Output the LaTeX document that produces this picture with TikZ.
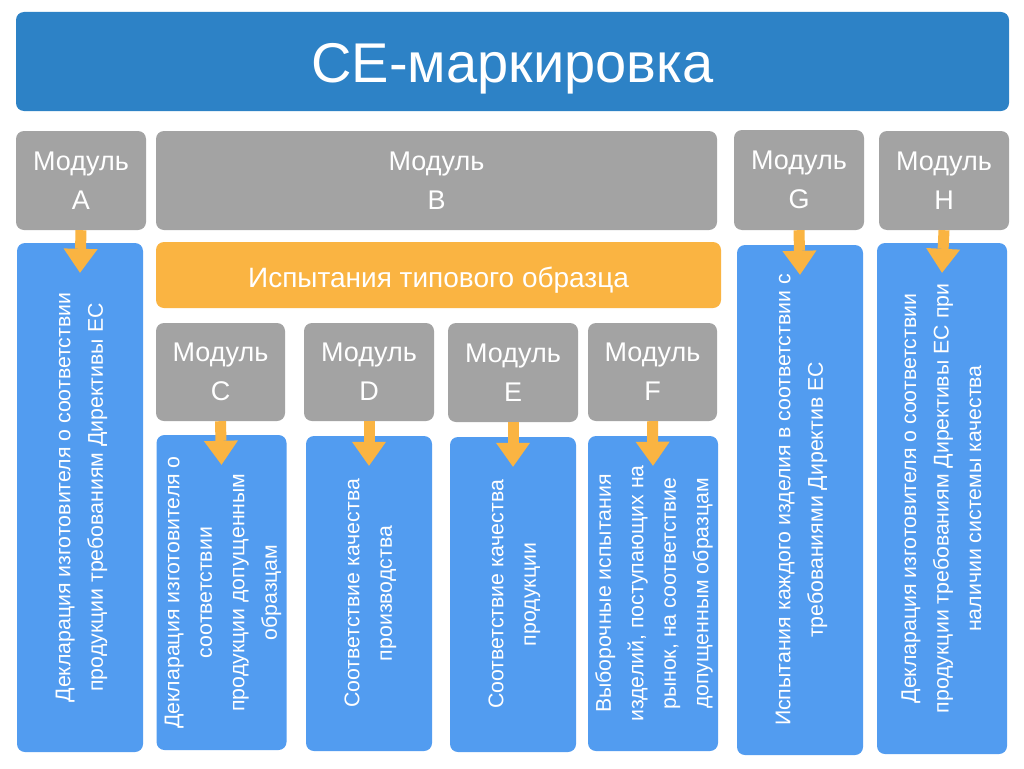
\documentclass[tikz,border=0pt]{standalone}
\usepackage{fontspec}
\setmainfont{Liberation Sans}
\usetikzlibrary{arrows.meta,calc}
\definecolor{titleblue}{RGB}{45,130,198}
\definecolor{boxblue}{RGB}{82,156,240}
\definecolor{modgray}{RGB}{163,163,163}
\definecolor{barorange}{RGB}{250,180,66}
\newcommand{\vtext}[1]{\rotatebox{90}{\begin{tabular}{@{}c@{}}#1\end{tabular}}}
\begin{document}
\begin{tikzpicture}[x=1pt,y=-1pt,
  box/.style={rectangle, rounded corners=8pt, inner sep=0pt, text=white},
  mod/.style={box, fill=modgray, font=\fontsize{27}{39}\selectfont, align=center},
  desc/.style={box, fill=boxblue, font=\fontsize{21.3}{32.5}\selectfont},
  conn/.style={draw=barorange, line width=11pt, -{Triangle[length=24pt,width=34pt,line width=0pt]}}
]
\useasboundingbox (0,0) rectangle (1024,768);
\fill[white] (0,0) rectangle (1024,768);

\node[box, fill=titleblue, minimum width=993pt, minimum height=99pt, text height=52pt, text depth=10pt, font=\fontsize{56}{60}\selectfont] (title) at (512.5,61.5) {CE-маркировка};

\node[mod, minimum width=130pt, minimum height=99pt] (mA) at (81,180.5) {Модуль\\A};
\node[mod, minimum width=561pt, minimum height=99pt] (mB) at (436.5,180.5) {Модуль\\B};
\node[mod, minimum width=130pt, minimum height=100pt] (mG) at (799,180) {Модуль\\G};
\node[mod, minimum width=130pt, minimum height=99pt] (mH) at (944,180.5) {Модуль\\H};

\node[box, fill=barorange, minimum width=565pt, minimum height=66pt, text height=28pt, text depth=4pt, font=\fontsize{28}{32}\selectfont] (bar) at (438.5,275) {Испытания типового образца};

\node[mod, minimum width=129pt, minimum height=98pt] (mC) at (220.5,372) {Модуль\\C};
\node[mod, minimum width=130pt, minimum height=98pt] (mD) at (369,372) {Модуль\\D};
\node[mod, minimum width=130pt, minimum height=99pt] (mE) at (513,372.5) {Модуль\\E};
\node[mod, minimum width=129pt, minimum height=98pt] (mF) at (652.5,372) {Модуль\\F};

\node[desc, minimum width=126pt, minimum height=509pt] (bA) at (80,497.5) {\vtext{Декларация изготовителя о соответствии\\продукции требованиям Директивы ЕС}};
\node[desc, minimum width=127pt, minimum height=315pt] (bC) at (221.5,592.5) {\vtext{Декларация изготовителя о\\соответствии\\продукции допущенным\\образцам}};
\node[desc, minimum width=126pt, minimum height=315pt] (bD) at (369,593.5) {\vtext{Соответствие качества\\производства}};
\node[desc, minimum width=126pt, minimum height=315pt] (bE) at (513,594.5) {\vtext{Соответствие качества\\продукции}};
\node[desc, minimum width=126pt, minimum height=315pt] (bF) at (653,593.5) {\vtext{Выборочные испытания\\изделий, поступающих на\\рынок, на соответствие\\допущенным образцам}};
\node[desc, minimum width=126pt, minimum height=510pt] (bG) at (800,500) {\vtext{Испытания каждого изделия в соответствии с\\требованиями Директив ЕС}};
\node[desc, minimum width=130pt, minimum height=511pt] (bH) at (942,498.5) {\vtext{Декларация изготовителя о соответствии\\продукции требованиям Директивы ЕС при\\наличии системы качества}};

\draw[conn] (mA.south) -- ([yshift=-30pt]bA.north);
\draw[conn] (mC.south) -- ([yshift=-30pt]bC.north);
\draw[conn] (mD.south) -- ([yshift=-30pt]bD.north);
\draw[conn] (mE.south) -- ([yshift=-30pt]bE.north);
\draw[conn] (mF.south) -- ([yshift=-30pt]bF.north);
\draw[conn] (mG.south) -- ([yshift=-30pt]bG.north);
\draw[conn] (mH.south) -- ([yshift=-30pt]bH.north);
\end{tikzpicture}
\end{document}
